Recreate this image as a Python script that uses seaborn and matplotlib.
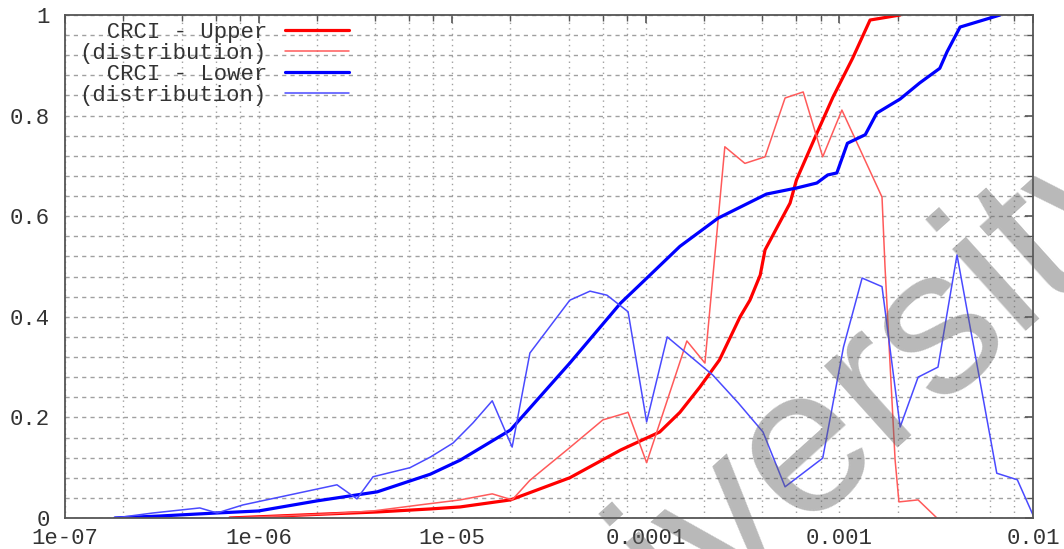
import matplotlib
matplotlib.use("Agg")
import matplotlib.pyplot as plt
import seaborn as sns
from matplotlib.ticker import FixedLocator, FixedFormatter, LogLocator, MultipleLocator, NullFormatter

# ---------------- data ----------------
upper_x = [7.1e-7, 2.25e-6, 4.1e-6, 7.7e-6, 1.1e-5, 2.0e-5, 4.05e-5, 7.4e-5, 1.18e-4,
           1.5e-4, 1.9e-4, 2.4e-4, 3.07e-4, 3.45e-4, 3.9e-4, 4.13e-4, 5.56e-4, 6.0e-4,
           7.65e-4, 9.27e-4, 1.17e-3, 1.44e-3, 2.06e-3]
upper_y = [0.0, 0.008, 0.012, 0.018, 0.022, 0.036, 0.08, 0.135, 0.171,
           0.21, 0.26, 0.314, 0.40, 0.433, 0.483, 0.533, 0.626, 0.672,
           0.765, 0.837, 0.914, 0.99, 1.0]

upper_dist_x = [7.1e-7, 2.25e-6, 3.9e-6, 6.8e-6, 1.1e-5, 1.61e-5, 2.04e-5, 2.52e-5, 4.05e-5,
                6.0e-5, 8.1e-5, 1.01e-4, 1.63e-4, 2.02e-4, 2.56e-4, 3.25e-4, 4.13e-4,
                5.24e-4, 6.5e-4, 8.2e-4, 1.03e-3, 1.66e-3, 1.72e-3, 1.83e-3, 1.94e-3,
                2.03e-3, 2.55e-3, 3.19e-3]
upper_dist_y = [0.0, 0.008, 0.014, 0.026, 0.036, 0.048, 0.036, 0.075, 0.14,
                0.195, 0.21, 0.11, 0.352, 0.308, 0.738, 0.705, 0.718,
                0.835, 0.847, 0.718, 0.811, 0.638, 0.5, 0.3, 0.115,
                0.032, 0.036, 0.0]

lower_x = [1.81e-7, 3.1e-7, 6.1e-7, 1.0e-6, 2.0e-6, 4.1e-6, 7.7e-6, 1.1e-5, 2.0e-5,
           4.05e-5, 7.4e-5, 1.0e-4, 1.5e-4, 2.36e-4, 4.2e-4, 6.0e-4, 7.65e-4, 8.7e-4,
           9.7e-4, 1.1e-3, 1.36e-3, 1.56e-3, 2.06e-3, 2.6e-3, 3.3e-3, 3.6e-3, 4.2e-3,
           6.0e-3, 6.76e-3]
lower_y = [0.0, 0.004, 0.01, 0.014, 0.034, 0.052, 0.087, 0.115, 0.175,
           0.308, 0.427, 0.475, 0.54, 0.596, 0.644, 0.656, 0.666, 0.682,
           0.686, 0.745, 0.762, 0.805, 0.833, 0.865, 0.894, 0.927, 0.976,
           0.994, 1.0]

lower_dist_x = [1.81e-7, 2.85e-7, 4.97e-7, 6.1e-7, 8.3e-7, 2.54e-6, 3.22e-6, 3.9e-6, 6.05e-6,
                7.7e-6, 1.01e-5, 1.28e-5, 1.61e-5, 2.04e-5, 2.52e-5, 4.05e-5, 5.15e-5,
                6.3e-5, 8.1e-5, 1.01e-4, 1.29e-4, 2.22e-4, 3.0e-4, 4.03e-4, 5.24e-4,
                8.2e-4, 1.05e-3, 1.31e-3, 1.66e-3, 2.06e-3, 2.55e-3, 3.23e-3, 4.05e-3,
                6.5e-3, 8.3e-3, 1.0e-2]
lower_dist_y = [0.0, 0.01, 0.02, 0.01, 0.026, 0.066, 0.038, 0.082, 0.10,
                0.121, 0.149, 0.189, 0.233, 0.141, 0.328, 0.433, 0.451,
                0.443, 0.41, 0.191, 0.36, 0.284, 0.229, 0.171, 0.062,
                0.119, 0.34, 0.477, 0.46, 0.181, 0.28, 0.30, 0.523,
                0.089, 0.076, 0.006]

series_labels = ["CRCI - Upper", "(distribution)", "CRCI - Lower", "(distribution)"]
x_ticks = [1e-7, 1e-6, 1e-5, 1e-4, 1e-3, 1e-2]
x_tick_labels = ["1e-07", "1e-06", "1e-05", "0.0001", "0.001", "0.01"]
y_ticks = [0.0, 0.2, 0.4, 0.6, 0.8, 1.0]
y_tick_labels = ["0", "0.2", "0.4", "0.6", "0.8", "1"]
watermark = "University"

# ---------------- style ----------------
sns.set_style("white")
plt.rcParams["font.family"] = ["Liberation Mono", "DejaVu Sans Mono"]
text_color = "#333333"

fig = plt.figure(figsize=(10.64, 5.49), dpi=100)
ax = fig.add_axes([65 / 1064, 1 - 518 / 549, (1033 - 65) / 1064, (518 - 15) / 549])

series = [
    (upper_x, upper_y, "#ff0000", 2.3),
    (upper_dist_x, upper_dist_y, "#ff5a5a", 1.1),
    (lower_x, lower_y, "#0000ff", 2.3),
    (lower_dist_x, lower_dist_y, "#4a4aff", 1.1),
]
handles = []
for xs, ys, col, lw in series:
    sns.lineplot(x=xs, y=ys, ax=ax, color=col, linewidth=lw, estimator=None, sort=False)
    handles.append(ax.get_lines()[-1])

ax.set_xscale("log")
ax.set_xlim(1e-7, 1e-2)
ax.set_ylim(0, 1)

ax.xaxis.set_major_locator(FixedLocator(x_ticks))
ax.xaxis.set_major_formatter(FixedFormatter(x_tick_labels))
ax.xaxis.set_minor_locator(LogLocator(base=10, subs=[2, 4, 6, 8], numticks=20))
ax.xaxis.set_minor_formatter(NullFormatter())
ax.yaxis.set_major_locator(FixedLocator(y_ticks))
ax.yaxis.set_major_formatter(FixedFormatter(y_tick_labels))
ax.yaxis.set_minor_locator(MultipleLocator(0.04))

ax.xaxis.grid(True, which="both", color="#a0a0a0", linestyle=(0, (1, 3)), linewidth=1.0)
ax.yaxis.grid(True, which="both", color="#a0a0a0", linestyle=(0, (3, 3)), linewidth=1.0)
ax.set_axisbelow(True)

ax.tick_params(which="both", direction="in", top=True, right=True, colors="#555555",
               labelcolor=text_color, labelsize=16)
ax.tick_params(which="major", length=6, width=1.2)
ax.tick_params(which="minor", length=4, width=1.0)
ax.tick_params(axis="y", pad=11)
ax.tick_params(axis="x", pad=7)
for s in ax.spines.values():
    s.set_color("#555555")
    s.set_linewidth(1.3)

labels = ["  " + series_labels[0], series_labels[1], "  " + series_labels[2], series_labels[3]]
leg = ax.legend(handles, labels, loc="upper left", bbox_to_anchor=(8 / 968, 1.0),
                frameon=False, markerfirst=False, fontsize=16, handlelength=2.9,
                handletextpad=0.8, labelspacing=0.0, borderaxespad=0.0, borderpad=0.3)
for t in leg.get_texts():
    t.set_color(text_color)

fig.text(0.744, 0.169, watermark, rotation=42, rotation_mode="anchor", ha="center",
         va="center", fontsize=150, family="Liberation Sans",
         color="#646464", alpha=0.45, zorder=10)

fig.savefig("out.png", dpi=100)
